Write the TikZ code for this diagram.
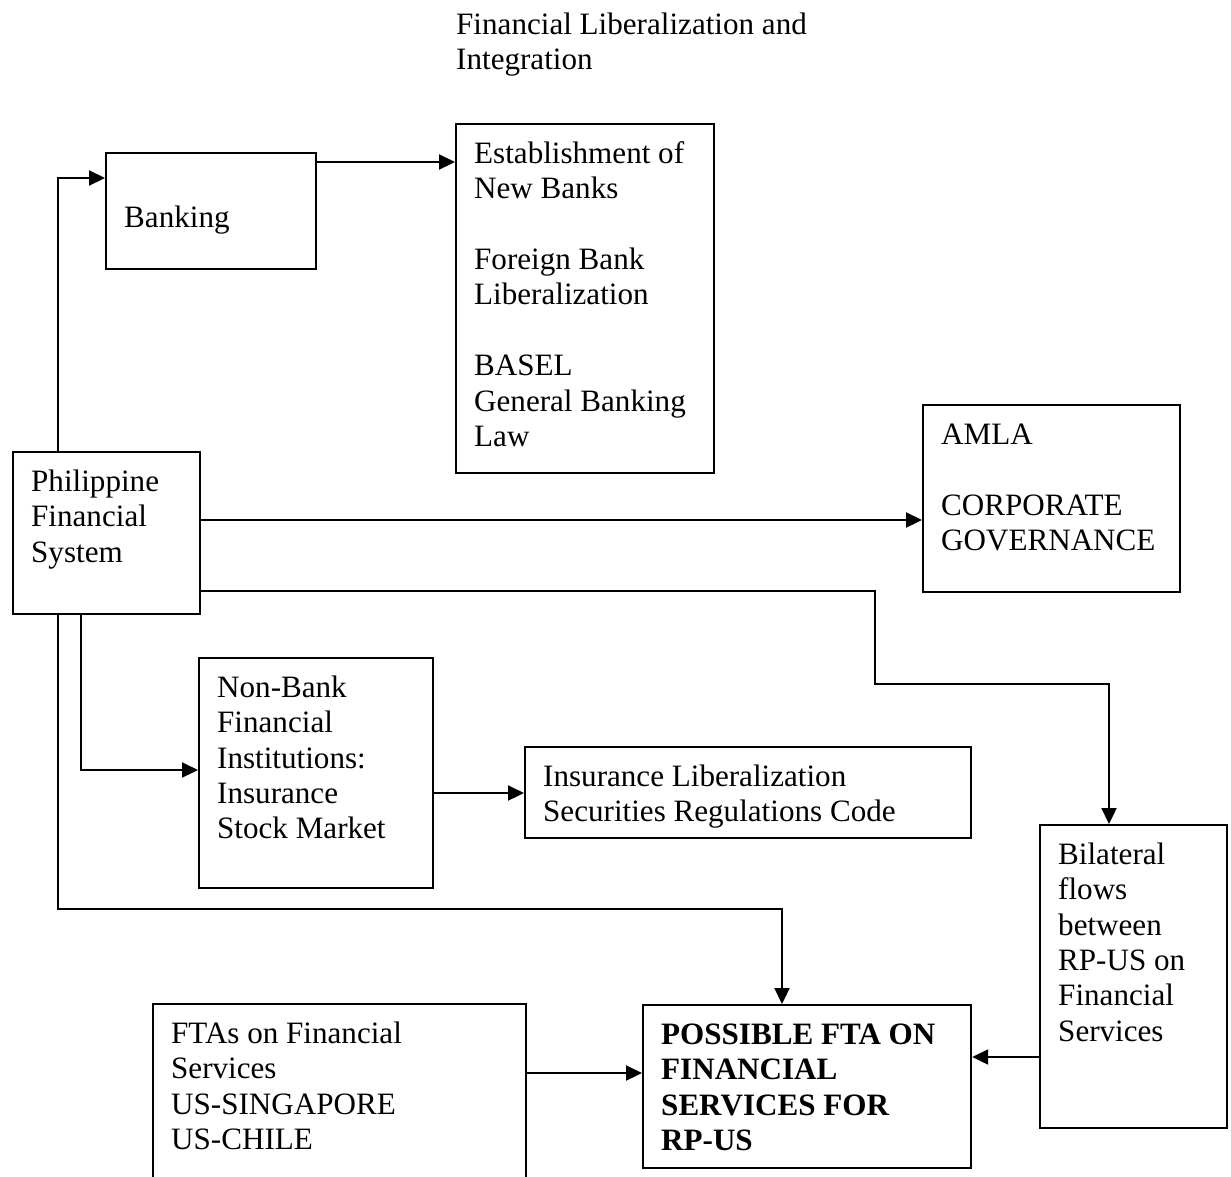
\documentclass[tikz,border=0pt]{standalone}
\usepackage{fontspec}
\setmainfont{Liberation Serif}
\usetikzlibrary{arrows.meta,calc}
\newcommand\dgfont{\fontsize{31.1pt}{35.4pt}\selectfont}
\newcommand\fl{\rule{0pt}{25pt}}
\begin{document}
\begin{tikzpicture}[x=1pt,y=-1pt,
  box/.style={draw,line width=2.2pt,inner sep=0pt,anchor=north west,rectangle},
  txt/.style={inner sep=0pt,anchor=north west,align=left,font=\dgfont},
  arr/.style={line width=2.2pt,-{Triangle[length=16pt,width=15pt]}}]
\useasboundingbox (0,0) rectangle (1231,1176);
\fill[white] (0,0) rectangle (1231,1176);
\clip (0,0) rectangle (1231,1176);

% title
\node[txt] (title) at (456,9) {\fl Financial Liberalization and\\Integration};

% boxes
\node[box,minimum width=210pt,minimum height=116pt] (bank) at (105,152) {};
\node[box,minimum width=258pt,minimum height=349pt] (est) at (455,123) {};
\node[box,minimum width=187pt,minimum height=162pt] (pfs) at (12,451) {};
\node[box,minimum width=257pt,minimum height=187pt] (amla) at (922,404) {};
\node[box,minimum width=234pt,minimum height=230pt] (nb) at (198,657) {};
\node[box,minimum width=446pt,minimum height=91pt] (ins) at (524,746) {};
\node[box,minimum width=187pt,minimum height=303pt] (bil) at (1039,824) {};
\node[box,minimum width=373pt,minimum height=190pt] (fta) at (152,1003) {};
\node[box,minimum width=328pt,minimum height=163pt] (pos) at (642,1004) {};

% texts
\node[txt] (tbank) at (124,202) {\fl Banking};
\node[txt] (test) at (474,138) {\fl Establishment of\\New Banks\\[35.4pt]Foreign Bank\\Liberalization\\[35.4pt]BASEL\\General Banking\\Law};
\node[txt] (tpfs) at (31,466) {\fl Philippine\\Financial\\System};
\node[txt] (tamla) at (941,419) {\fl AMLA\\[35.4pt]CORPORATE\\GOVERNANCE};
\node[txt] (tnb) at (217,672) {\fl Non-Bank\\Financial\\Institutions:\\Insurance\\Stock Market};
\node[txt] (tins) at (543,761) {\fl Insurance Liberalization\\Securities Regulations Code};
\node[txt] (tbil) at (1058,839) {\fl Bilateral\\flows\\between\\RP-US on\\Financial\\Services};
\node[txt] (tfta) at (171,1018) {\fl FTAs on Financial\\Services\\US-SINGAPORE\\US-CHILE};
\node[txt,font=\dgfont\bfseries] (tpos) at (661,1019) {\fl POSSIBLE FTA ON\\FINANCIAL\\SERVICES FOR\\RP-US};

% connector points
\coordinate (c0) at ([xshift=46pt]pfs.north west);
\coordinate (c0b) at ([yshift=-26pt]bank.north west);
\coordinate (c1) at ([yshift=-10pt]bank.north east);
\coordinate (c2) at ([yshift=-69pt]pfs.north east);
\coordinate (c3) at ([yshift=-140pt]pfs.north east);
\coordinate (k1) at (875,684);
\coordinate (c3b) at ([xshift=70pt]bil.north west);
\coordinate (c4) at ([xshift=69pt]pfs.south west);
\coordinate (c4b) at ([yshift=-113pt]nb.north west);
\coordinate (c5) at ([yshift=-136pt]nb.north east);
\coordinate (c6) at ([xshift=46pt]pfs.south west);
\coordinate (k2) at (0,909);
\coordinate (c6b) at ([xshift=140pt]pos.north west);
\coordinate (c7) at ([yshift=-70pt]fta.north east);
\coordinate (c8) at ([yshift=-233pt]bil.north west);

% connectors
\draw[arr] (c0) |- (c0b);
\draw[arr] (c1) -- (c1 -| est.west);
\draw[arr] (c2) -- (c2 -| amla.west);
\draw[arr] (c3) -| (k1) -| (c3b);
\draw[arr] (c4) |- (c4b);
\draw[arr] (c5) -- (c5 -| ins.west);
\draw[arr] (c6) -- (c6 |- k2) -| (c6b);
\draw[arr] (c7) -- (c7 -| pos.west);
\draw[arr] (c8) -- (c8 -| pos.east);
\end{tikzpicture}
\end{document}
